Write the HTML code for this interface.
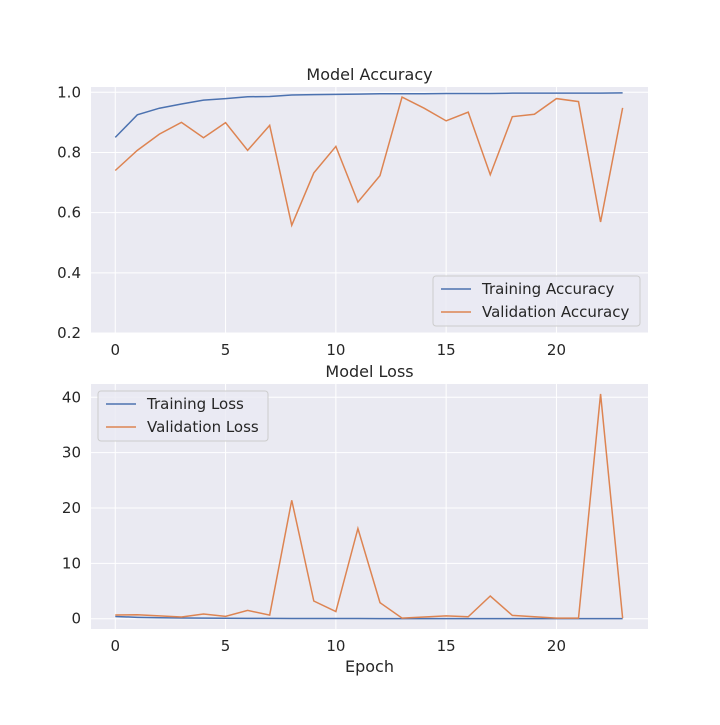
<!DOCTYPE html>
<html><head><meta charset="utf-8"><style>
body{margin:0;background:#fff;}
svg text{font-family:"DejaVu Sans","Liberation Sans",sans-serif;fill:#262626;}
</style></head><body>
<svg id="chart" width="720" height="720" xmlns="http://www.w3.org/2000/svg"></svg>
<script>
const epochs=[0,1,2,3,4,5,6,7,8,9,10,11,12,13,14,15,16,17,18,19,20,21,22,23];
const trainAcc=[0.85,0.925,0.947,0.961,0.974,0.979,0.985,0.986,0.991,0.992,0.993,0.994,0.995,0.995,0.995,0.996,0.996,0.996,0.997,0.997,0.997,0.997,0.997,0.998];
const valAcc=[0.74,0.807,0.861,0.90,0.849,0.899,0.807,0.89,0.558,0.732,0.82,0.635,0.723,0.984,0.947,0.905,0.934,0.726,0.919,0.927,0.979,0.969,0.569,0.948];
const trainLoss=[0.4,0.25,0.18,0.13,0.1,0.08,0.06,0.05,0.04,0.035,0.03,0.03,0.025,0.02,0.02,0.02,0.02,0.02,0.02,0.015,0.015,0.015,0.015,0.015];
const valLoss=[0.66,0.72,0.5,0.3,0.85,0.42,1.5,0.66,21.4,3.2,1.3,16.3,2.9,0.1,0.3,0.5,0.35,4.1,0.6,0.35,0.1,0.1,40.6,0.1];
const xTicks=[0,5,10,15,20];
const accTicks=[0.2,0.4,0.6,0.8,1.0];
const lossTicks=[0,10,20,30,40];

const svg=document.getElementById('chart');
const NS='http://www.w3.org/2000/svg';
function mk(tag,attrs,parent){const e=document.createElementNS(NS,tag);for(const k in attrs)e.setAttribute(k,attrs[k]);(parent||svg).appendChild(e);return e;}
const L=91,R=648,xmin=-1.1,xmax=24.15;
const xs=v=>L+(v-xmin)/(xmax-xmin)*(R-L);

function panel(name,top,bot,ymin,ymax,yt,fmt,series,title,legend,xlabel){
  const g=mk('g',{});
  
  
  const ys=v=>bot-(v-ymin)/(ymax-ymin)*(bot-top);
  const bg=mk('rect',{x:L,y:top,width:R-L,height:bot-top,fill:'#eaeaf2'},g);
  
  
  xTicks.forEach(t=>{
    mk('line',{x1:xs(t),x2:xs(t),y1:top,y2:bot,stroke:'#fff','stroke-width':1},g);
    const tx=mk('text',{x:xs(t),y:bot+22,'text-anchor':'middle','font-size':15},g);
    tx.textContent=t;
    
    
  });
  yt.forEach(t=>{
    mk('line',{x1:L,x2:R,y1:ys(t),y2:ys(t),stroke:'#fff','stroke-width':1},g);
    const tx=mk('text',{x:L-10,y:ys(t)+5,'text-anchor':'end','font-size':15},g);
    tx.textContent=fmt(t);
    
    
  });
  series.forEach(s=>{
    const p=mk('polyline',{points:s.data.map((v,i)=>xs(epochs[i])+','+ys(v)).join(' '),fill:'none',stroke:s.color,'stroke-width':1.5},g);
    
    
  });
  const tt=mk('text',{x:(L+R)/2,y:top-7,'text-anchor':'middle','font-size':16},g);
  tt.textContent=title;
  
  
  const lg=mk('g',{},g);
  
  
  mk('rect',{x:legend.x,y:legend.y,width:legend.w,height:50,rx:3,fill:'#eaeaf2',stroke:'#cccccc','fill-opacity':0.8},lg);
  series.forEach((s,i)=>{
    const yy=legend.y+13+i*23;
    mk('line',{x1:legend.x+8,x2:legend.x+38,y1:yy,y2:yy,stroke:s.color,'stroke-width':1.5},lg);
    const t=mk('text',{x:legend.x+49,y:yy+5,'font-size':15},lg);
    t.textContent=s.label;
    
    
  });
  if(xlabel){const xl=mk('text',{x:(L+R)/2,y:bot+43,'text-anchor':'middle','font-size':16},g);xl.textContent=xlabel;
    
    }
}
panel('accuracy',87,333,0.2,1.0175,accTicks,t=>t.toFixed(1),
  [{id:'training-accuracy-line',data:trainAcc,color:'#4c72b0',label:'Training Accuracy'},
   {id:'validation-accuracy-line',data:valAcc,color:'#dd8452',label:'Validation Accuracy'}],
  'Model Accuracy',{x:433,y:276,w:207},null);
panel('loss',384,629,-1.86,42.4,lossTicks,t=>String(t),
  [{id:'training-loss-line',data:trainLoss,color:'#4c72b0',label:'Training Loss'},
   {id:'validation-loss-line',data:valLoss,color:'#dd8452',label:'Validation Loss'}],
  'Model Loss',{x:98,y:391,w:170},'Epoch');
</script>
</body></html>
